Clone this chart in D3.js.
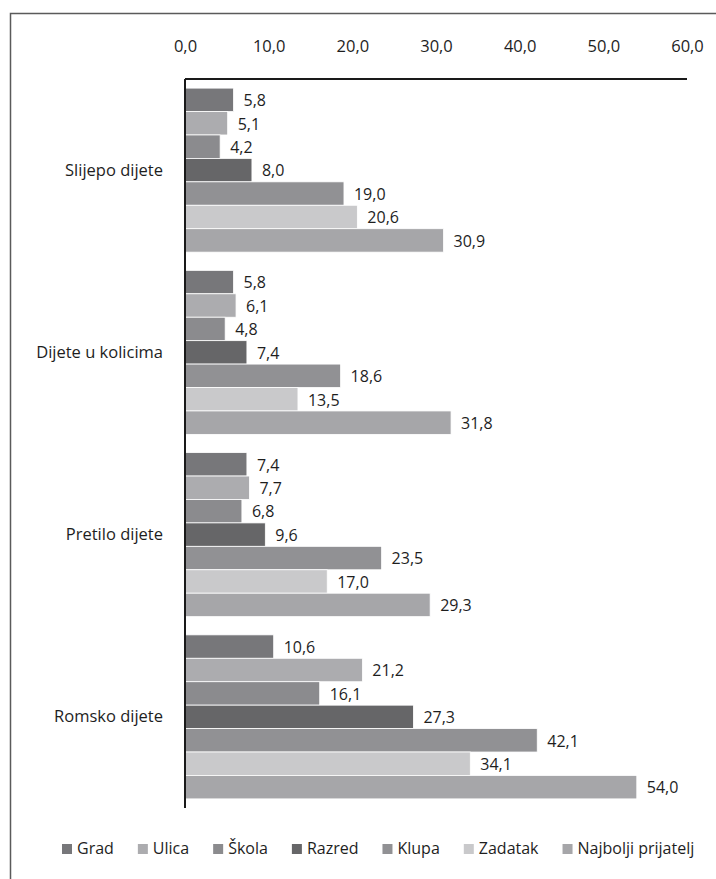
<!DOCTYPE html>
<html>
<head>
<meta charset="utf-8">
<script src="https://cdn.jsdelivr.net/npm/d3@7"></script>
<style>
  html, body { margin: 0; padding: 0; background: #ffffff; }
  svg { display: block; }
  text { font-family: "Open Sans", "Noto Sans", sans-serif; fill: #1e1e1e; }
</style>
</head>
<body>
<svg id="chart" width="716" height="879"></svg>
<script>
// ---- data ----
const categories = ["Slijepo dijete", "Dijete u kolicima", "Pretilo dijete", "Romsko dijete"];
const seriesNames = ["Grad", "Ulica", "Škola", "Razred", "Klupa", "Zadatak", "Najbolji prijatelj"];
const seriesColors = ["#77777a", "#acacaf", "#8b8b8e", "#666668", "#919194", "#c9c9cb", "#a6a6a9"];
const valuesGrad      = [5.8, 5.8, 7.4, 10.6];
const valuesUlica     = [5.1, 6.1, 7.7, 21.2];
const valuesSkola     = [4.2, 4.8, 6.8, 16.1];
const valuesRazred    = [8.0, 7.4, 9.6, 27.3];
const valuesKlupa     = [19.0, 18.6, 23.5, 42.1];
const valuesZadatak   = [20.6, 13.5, 17.0, 34.1];
const valuesNajbolji  = [30.9, 31.8, 29.3, 54.0];
const tickValues = [0, 10, 20, 30, 40, 50, 60];

const seriesValues = [valuesGrad, valuesUlica, valuesSkola, valuesRazred, valuesKlupa, valuesZadatak, valuesNajbolji];

const svg = d3.select("#chart");
const fmt = v => d3.format(".1f")(v).replace(".", ",");

// frame (only top and left visible in the reference)
svg.append("path")
  .attr("d", "M10.5,879 V13.5 H716")
  .attr("fill", "none")
  .attr("stroke", "#5a5a5a")
  .attr("stroke-width", 1.5);

const plot = { left: 185, right: 687, top: 79, bottom: 808 };

const x = d3.scaleLinear().domain([0, 60]).range([plot.left, plot.right]);
const y0 = d3.scaleBand().domain(categories).range([plot.top, plot.bottom]).paddingInner(0.1).paddingOuter(0.05);
const y1 = d3.scaleBand().domain(seriesNames).range([0, y0.bandwidth()]);
const color = d3.scaleOrdinal().domain(seriesNames).range(seriesColors);

// bars
const rows = [];
categories.forEach((c, ci) => {
  seriesNames.forEach((s, si) => rows.push({ cat: c, ser: s, value: seriesValues[si][ci] }));
});

const g = svg.append("g");
g.selectAll("rect.bar").data(rows).join("rect")
  .attr("class", "bar")
  .attr("x", x(0))
  .attr("y", d => y0(d.cat) + y1(d.ser))
  .attr("width", d => x(d.value) - x(0))
  .attr("height", y1.bandwidth())
  .attr("fill", d => color(d.ser))
  .attr("stroke", "#ffffff")
  .attr("stroke-width", 0.8);

g.selectAll("text.val").data(rows).join("text")
  .attr("class", "val")
  .attr("x", d => x(d.value) + 10)
  .attr("y", d => y0(d.cat) + y1(d.ser) + y1.bandwidth() / 2 + 2)
  .attr("dominant-baseline", "middle")
  .attr("font-size", 16)
  .text(d => fmt(d.value));

// top axis
const xAxis = d3.axisTop(x).tickValues(tickValues).tickSize(0).tickPadding(27).tickFormat(fmt);
const ax = svg.append("g").attr("transform", `translate(0,${plot.top})`).call(xAxis);
ax.select(".domain").attr("stroke", "#1a1a1a").attr("stroke-width", 2).attr("d", `M${plot.left},0H${plot.right}`);
ax.selectAll(".tick text").attr("font-size", 16.5).attr("font-family", '"Open Sans", sans-serif').attr("fill", "#1e1e1e");

// vertical category axis line
svg.append("line")
  .attr("x1", plot.left).attr("x2", plot.left)
  .attr("y1", plot.top).attr("y2", plot.bottom)
  .attr("stroke", "#1a1a1a").attr("stroke-width", 2);

// category labels
svg.selectAll("text.cat").data(categories).join("text")
  .attr("class", "cat")
  .attr("x", plot.left - 22)
  .attr("y", d => y0(d) + y0.bandwidth() / 2 + 1)
  .attr("text-anchor", "end")
  .attr("dominant-baseline", "middle")
  .attr("font-size", 16.5)
  .text(d => d);

// legend
const legend = svg.append("g").attr("transform", "translate(62,849)");
let lx = 0;
seriesNames.forEach(s => {
  const item = legend.append("g").attr("transform", `translate(${lx},0)`);
  item.append("rect").attr("x", 0).attr("y", -5).attr("width", 10).attr("height", 10).attr("fill", color(s));
  const t = item.append("text").attr("x", 15).attr("y", 1).attr("dominant-baseline", "middle")
    .attr("font-size", 16).text(s);
  lx += 15 + t.node().getComputedTextLength() + 24;
});
</script>
</body>
</html>
